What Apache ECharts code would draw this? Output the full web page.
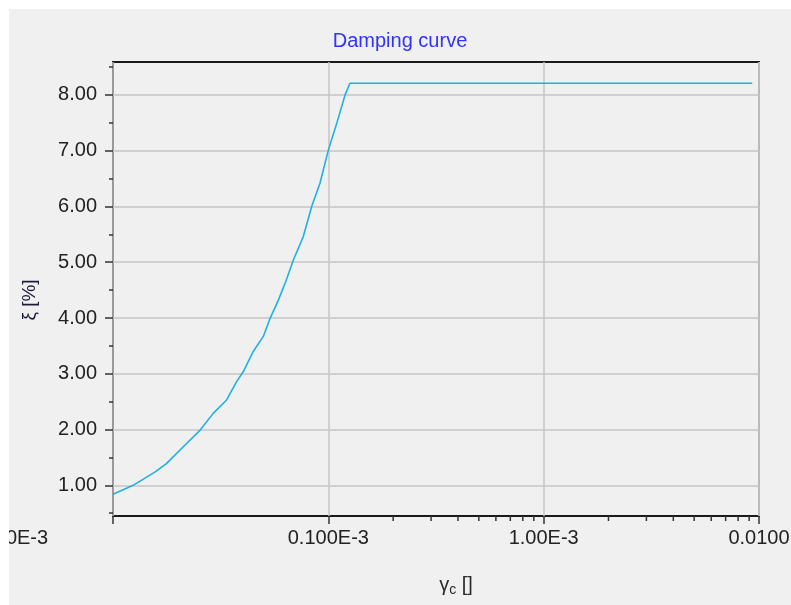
<!DOCTYPE html>
<html>
<head>
<meta charset="utf-8">
<script src="https://cdn.jsdelivr.net/npm/echarts@6/dist/echarts.min.js"></script>
<style>
html,body{margin:0;padding:0;background:#ffffff;}
#chart{position:absolute;left:9px;top:9px;width:782px;height:596px;background:#f0f0f0;}
</style>
</head>
<body>
<div id="chart"></div>
<script>
// ---- data ----
const gammaValues = [1.0e-5, 1.24e-5, 1.57e-5, 1.77e-5, 2.08e-5, 2.54e-5, 2.92e-5, 3.37e-5, 3.75e-5, 4.03e-5, 4.48e-5, 4.99e-5, 5.36e-5, 5.86e-5, 6.35e-5, 6.88e-5, 7.65e-5, 8.37e-5, 9.15e-5, 1.0e-4, 1.094e-4, 1.196e-4, 1.26e-4, 9.3e-3];
const dampingValues = [0.84, 1.0, 1.24, 1.39, 1.66, 1.99, 2.29, 2.53, 2.86, 3.04, 3.40, 3.67, 3.99, 4.32, 4.66, 5.04, 5.46, 6.00, 6.42, 7.01, 7.49, 8.00, 8.21, 8.21];
const xTickLabels = ['0.0100E-3', '0.100E-3', '1.00E-3', '0.0100'];
const xMinorTicks = [2e-4, 3e-4, 4e-4, 5e-4, 6e-4, 7e-4, 8e-4, 9e-4, 2e-3, 3e-3, 4e-3, 5e-3, 6e-3, 7e-3, 8e-3, 9e-3];
const yMajorTicks = [1, 2, 3, 4, 5, 6, 7, 8];
const yMinorTicks = [0.5, 1.5, 2.5, 3.5, 4.5, 5.5, 6.5, 7.5, 8.5];
const xMin = 1e-5, xMax = 1e-2;
const yMin = 0.45, yMax = 8.59;

const FONT = '"Liberation Sans", Arial, sans-serif';
const chart = echarts.init(document.getElementById('chart'), null, {renderer: 'canvas'});

const option = {
  backgroundColor: '#f0f0f0',
  animation: false,
  title: {
    text: 'Damping curve',
    left: 'center',
    top: 17,
    textStyle: {color: '#3232ff', fontSize: 20, fontWeight: 'normal', fontFamily: FONT}
  },
  grid: {
    left: 104, right: 32, top: 53, bottom: 89,
    containLabel: false,
    outerBoundsMode: 'none',
    show: true, borderColor: '#1a1a1a', borderWidth: 2, backgroundColor: 'transparent'
  },
  xAxis: [{
    type: 'log', min: xMin, max: xMax, logBase: 10,
    position: 'bottom',
    axisLine: {show: false},
    axisTick: {show: true, length: 8, lineStyle: {color: '#333', width: 1.5}},
    splitLine: {show: true, lineStyle: {color: '#c6c6c6', width: 1.5}},
    minorTick: {show: false},
    axisLabel: {
      margin: 12, color: '#222', fontSize: 20, fontFamily: FONT,
      hideOverlap: false,
      formatter: function (v) {
        const i = Math.round(Math.log10(v)) + 5;
        if (i === 0) return '{first|' + xTickLabels[0] + '}';
        return xTickLabels[i];
      },
      rich: {first: {color: '#222', fontSize: 20, fontFamily: FONT, padding: [0, 222, 0, 0]}}
    },
    name: '{g|γ}{s|c}{g| []}',
    nameLocation: 'middle',
    nameGap: 57,
    nameTextStyle: {
      rich: {
        g: {fontSize: 20, fontFamily: FONT, color: '#2a2a2a'},
        s: {fontSize: 14, fontFamily: FONT, color: '#2a2a2a', verticalAlign: 'bottom', padding: [10, 0, 0, 0]}
      },
      padding: [0, 0, 0, 40]
    }
  }],
  yAxis: [{
    type: 'value', min: yMin, max: yMax, position: 'left',
    minInterval: 1, maxInterval: 1,
    axisLine: {show: false},
    axisTick: {show: true, length: 8, customValues: yMajorTicks, lineStyle: {color: '#333', width: 1.5}},
    splitLine: {show: true, lineStyle: {color: '#c6c6c6', width: 1.5}},
    axisLabel: {
      margin: 16, color: '#222', fontSize: 20, fontFamily: FONT,
      customValues: yMajorTicks,
      formatter: function (v) { return v.toFixed(2); }
    },
    name: 'ξ [%]',
    nameLocation: 'middle',
    nameGap: 74,
    nameTextStyle: {fontSize: 19, fontFamily: FONT, color: '#1c1c3c', padding: [0, 22, 0, 0]}
  }, {
    type: 'value', min: yMin, max: yMax, position: 'left',
    minInterval: 0.5, maxInterval: 0.5,
    axisLine: {show: false},
    axisTick: {show: true, length: 4, customValues: yMinorTicks, lineStyle: {color: '#333', width: 1.5}},
    splitLine: {show: false},
    axisLabel: {show: false}
  }],
  series: [{
    type: 'line',
    xAxisIndex: 0, yAxisIndex: 0,
    data: gammaValues.map((g, i) => [g, dampingValues[i]]),
    showSymbol: false, symbol: 'none',
    lineStyle: {color: '#1fb0e8', width: 1.6},
    itemStyle: {color: '#1fb0e8'},
    z: 5
  }, {
    type: 'custom',
    xAxisIndex: 0, yAxisIndex: 0,
    coordinateSystem: 'cartesian2d',
    silent: true, clip: false,
    data: xMinorTicks.map(v => [v, yMin]),
    renderItem: function (params, api) {
      const p = api.coord([api.value(0), api.value(1)]);
      return {
        type: 'line',
        shape: {x1: p[0], y1: p[1], x2: p[0], y2: p[1] + 5},
        style: {stroke: '#333', lineWidth: 1.5}
      };
    },
    z: 6
  }]
};
chart.setOption(option);
</script>
</body>
</html>
